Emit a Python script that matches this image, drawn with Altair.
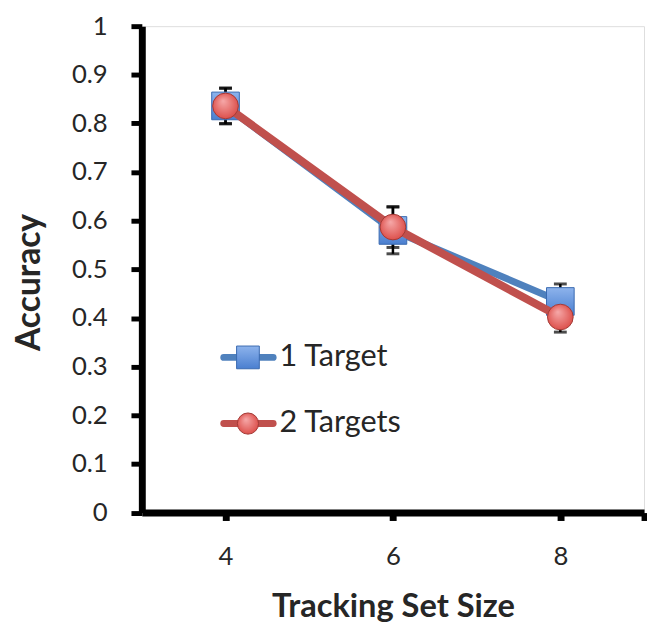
import altair as alt
import pandas as pd

set_size = [4, 6, 8]
acc_1 = [0.836, 0.580, 0.434]
err_1 = [0.037, 0.048, 0.036]
acc_2 = [0.836, 0.587, 0.402]
err_2 = [0.036, 0.042, 0.031]
series = ["1 Target", "2 Targets"]
legend_y = [0.319, 0.183]
legend_line_x = [3.979, 4.569]
legend_marker_x = 4.268
legend_text_x = 4.646

BLUE = "#4F81BD"
RED = "#C0504D"
FONT = "Lato"
TXT = "#262626"

d1 = pd.DataFrame({"x": set_size, "y": acc_1, "lo": [a - e for a, e in zip(acc_1, err_1)],
                   "hi": [a + e for a, e in zip(acc_1, err_1)]})
d2 = pd.DataFrame({"x": set_size, "y": acc_2, "lo": [a - e for a, e in zip(acc_2, err_2)],
                   "hi": [a + e for a, e in zip(acc_2, err_2)]})

xs = alt.Scale(domain=[3, 9], nice=False, zero=False)
ys = alt.Scale(domain=[0, 1], nice=False)

X = alt.X("x:Q", scale=xs, title="Tracking Set Size",
          axis=alt.Axis(values=[4, 6, 8, 9], format="d",
                        labelExpr="datum.value == 9 ? '' : datum.label",
                        grid=False, domainWidth=7, domainColor="black", tickColor="black",
                        tickWidth=7, tickSize=8, labelFontSize=26, labelPadding=24,
                        titleFontSize=33, titleFontWeight="bold", titleBaseline="alphabetic",
                        titleY=105, labelFont=FONT, titleFont=FONT,
                        labelColor=TXT, titleColor=TXT))
Y = alt.Y("y:Q", scale=ys, title="Accuracy",
          axis=alt.Axis(values=[i / 10 for i in range(11)], format="~g", grid=False,
                        domainWidth=7, domainColor="black", tickColor="black", tickWidth=5,
                        tickSize=11, labelFontSize=26, labelPadding=24,
                        titleFontSize=34, titleFontWeight="bold", titleBaseline="alphabetic",
                        titleAngle=270, titleAlign="center", titleX=-104, titleY=259,
                        labelFont=FONT, titleFont=FONT, labelColor=TXT, titleColor=TXT))

blue_grad = alt.Gradient(gradient="linear", x1=0, y1=0, x2=0, y2=1,
                         stops=[alt.GradientStop(color="#8DB3EC", offset=0),
                                alt.GradientStop(color="#4A7FD0", offset=1)])
red_grad = alt.Gradient(gradient="radial", x1=0.4, y1=0.3, x2=0.5, y2=0.5, r1=0, r2=0.6,
                        stops=[alt.GradientStop(color="#F6A9A9", offset=0),
                               alt.GradientStop(color="#D9443F", offset=1)])


def errbars(df):
    stem = alt.Chart(df).mark_rule(color="black", strokeWidth=2.5).encode(
        x=X, y=alt.Y("lo:Q", scale=ys), y2="hi:Q")
    cap_hi = alt.Chart(df).mark_tick(color="black", size=13, thickness=3, orient="horizontal").encode(
        x="x:Q", y=alt.Y("hi:Q", scale=ys))
    cap_lo = alt.Chart(df).mark_tick(color="black", size=13, thickness=3, orient="horizontal").encode(
        x="x:Q", y=alt.Y("lo:Q", scale=ys))
    return stem + cap_hi + cap_lo


line1 = alt.Chart(d1).mark_line(color=BLUE, strokeWidth=7).encode(x=X, y=Y)
mark1 = alt.Chart(d1).mark_point(shape="square", size=784, filled=True, fill=blue_grad,
                                 stroke="#3A6AB0", strokeWidth=1, opacity=1).encode(x="x:Q", y="y:Q")
line2 = alt.Chart(d2).mark_line(color=RED, strokeWidth=8).encode(x="x:Q", y="y:Q")
mark2 = alt.Chart(d2).mark_point(shape="circle", size=676, filled=True, fill=red_grad,
                                 stroke="#A33A36", strokeWidth=1, opacity=1).encode(x="x:Q", y="y:Q")

# manual in-plot legend
leg_lines = pd.DataFrame({"x": legend_line_x[0], "x2": legend_line_x[1], "y": legend_y, "s": series})
leg_text = pd.DataFrame({"x": [legend_text_x] * 2, "y": legend_y, "s": series})
leg_mark = pd.DataFrame({"x": [legend_marker_x] * 2, "y": legend_y, "s": series})

leg_line_b = alt.Chart(leg_lines.iloc[[0]]).mark_rule(color=BLUE, strokeWidth=7, strokeCap="round").encode(
    x="x:Q", x2="x2:Q", y="y:Q")
leg_line_r = alt.Chart(leg_lines.iloc[[1]]).mark_rule(color=RED, strokeWidth=7, strokeCap="round").encode(
    x="x:Q", x2="x2:Q", y="y:Q")
leg_sq = alt.Chart(leg_mark.iloc[[0]]).mark_point(shape="square", size=530, filled=True, fill=blue_grad,
                                                  stroke="#3A6AB0", strokeWidth=1, opacity=1).encode(x="x:Q", y="y:Q")
leg_ci = alt.Chart(leg_mark.iloc[[1]]).mark_point(shape="circle", size=460, filled=True, fill=red_grad,
                                                  stroke="#A33A36", strokeWidth=1, opacity=1).encode(x="x:Q", y="y:Q")
leg_txt = alt.Chart(leg_text).mark_text(align="left", baseline="middle", fontSize=31, font=FONT,
                                        color=TXT).encode(x="x:Q", y="y:Q", text="s:N")

chart = alt.layer(
    errbars(d1), errbars(d2), line1, mark1, line2, mark2,
    leg_line_b, leg_line_r, leg_sq, leg_ci, leg_txt
).properties(
    width=508.5, height=492.5,
    autosize=alt.AutoSizeParams(type="none"),
    padding={"left": 135.5, "top": 14.5, "right": 3, "bottom": 114},
).configure_view(stroke=None).configure(background="white")

chart.save("out.html", embed_options={"renderer": "svg", "actions": False})
